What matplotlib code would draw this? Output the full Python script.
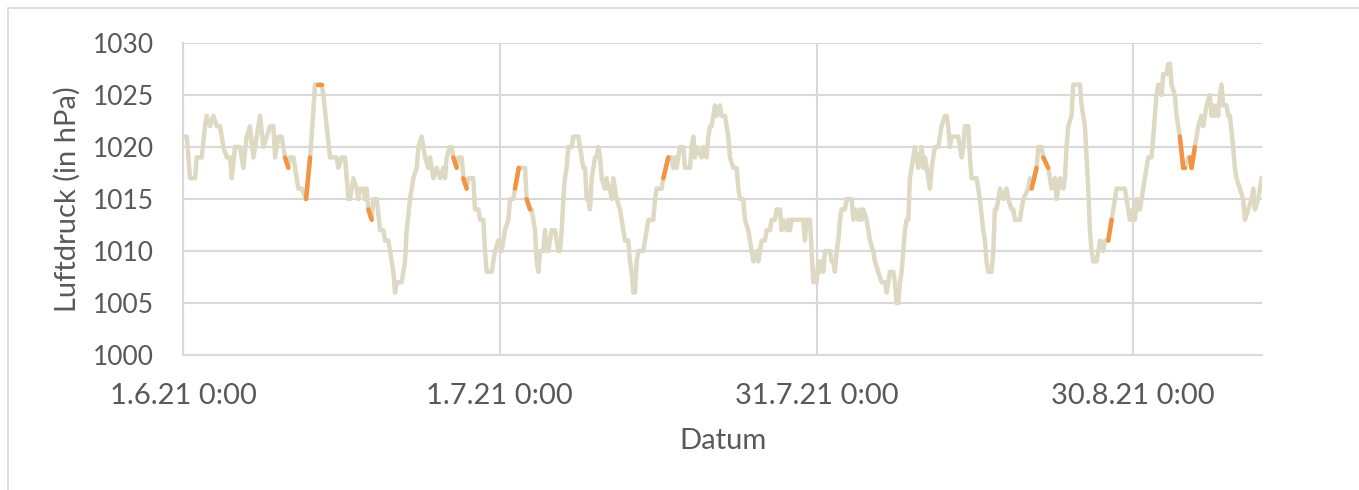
import matplotlib.pyplot as plt
import matplotlib.dates as mdates
import matplotlib.ticker as mticker
from matplotlib.patches import Rectangle
import pandas as pd

# Tage seit 1.6.21 0:00 und Luftdruck in hPa
tage = [0.00, 0.35, 0.66, 1.14, 1.29, 1.77, 2.08, 2.24, 2.56, 2.87, 3.19, 3.50, 3.82, 4.14, 4.45, 4.61,
        4.92, 5.40, 5.71, 6.03, 6.34, 6.66, 6.98, 7.29, 7.61, 7.92, 8.24, 8.55, 8.71, 9.03, 9.34, 9.66,
        9.97, 10.13, 10.45, 10.76, 10.92, 11.24, 11.65, 12.03, 12.18, 12.50, 12.75, 13.13, 13.29, 13.60,
        13.92, 14.55, 14.71, 15.03, 15.34, 15.66, 15.81, 16.13, 16.45, 16.60, 16.76, 17.08, 17.23, 17.39,
        17.55, 17.87, 18.02, 18.34, 18.66, 18.97, 19.13, 19.44, 19.60, 19.76, 19.92, 20.08, 20.23, 20.71,
        20.86, 21.02, 21.18, 21.50, 21.81, 22.13, 22.29, 22.60, 22.92, 23.23, 23.39, 23.55, 23.71, 24.02,
        24.34, 24.65, 24.81, 24.97, 25.28, 25.44, 25.60, 25.92, 26.07, 26.39, 26.55, 26.86, 27.02, 27.49,
        27.65, 27.97, 28.13, 28.44, 28.60, 28.76, 29.23, 29.39, 29.55, 29.86, 30.18, 30.33, 30.49, 30.81,
        30.97, 31.28, 31.44, 31.80, 32.39, 32.54, 32.86, 33.02, 33.18, 33.33, 33.49, 33.65, 33.81, 34.12,
        34.28, 34.44, 34.60, 34.75, 34.91, 35.23, 35.39, 35.54, 35.70, 35.86, 36.02, 36.17, 36.33, 36.49,
        36.81, 36.96, 37.44, 37.59, 37.75, 37.91, 38.07, 38.23, 38.38, 38.54, 38.70, 39.02, 39.17, 39.33,
        39.49, 39.65, 39.96, 40.12, 40.28, 40.44, 40.59, 40.75, 40.91, 41.07, 41.38, 41.54, 41.86, 42.17,
        42.33, 42.49, 42.65, 42.80, 42.96, 43.12, 43.59, 43.75, 43.91, 44.07, 44.54, 44.70, 44.86, 45.33,
        45.49, 45.96, 46.28, 46.43, 46.59, 46.75, 46.91, 47.06, 47.38, 47.54, 48.01, 48.17, 48.33, 48.48,
        48.64, 49.12, 49.27, 49.59, 49.75, 49.91, 50.06, 50.22, 50.38, 50.54, 50.85, 51.01, 51.33, 51.48,
        51.64, 51.80, 52.11, 52.43, 52.59, 52.75, 53.06, 53.22, 53.54, 53.69, 53.85, 54.01, 54.32, 54.48,
        54.64, 54.80, 55.11, 55.27, 55.59, 55.74, 56.06, 56.22, 56.53, 56.69, 56.85, 57.17, 57.32, 57.48,
        57.64, 58.74, 58.90, 59.06, 59.38, 59.53, 59.69, 60.01, 60.16, 60.32, 60.48, 60.64, 60.80, 61.27,
        61.43, 61.58, 61.74, 61.90, 62.06, 62.22, 62.37, 62.69, 62.85, 63.32, 63.48, 63.64, 63.95, 64.11,
        64.27, 64.43, 64.74, 65.06, 65.37, 65.53, 65.85, 66.16, 66.48, 66.64, 66.79, 66.95, 67.27, 67.42,
        67.58, 67.74, 67.90, 68.06, 68.21, 68.37, 68.53, 68.69, 68.84, 69.00, 69.16, 69.32, 69.48, 69.63,
        69.79, 69.95, 70.11, 70.27, 70.42, 70.58, 70.74, 70.90, 71.05, 71.21, 71.53, 71.69, 71.84, 72.16,
        72.32, 72.47, 72.63, 72.79, 73.42, 73.58, 73.74, 73.90, 74.05, 74.37, 74.53, 74.68, 75.16, 75.47,
        75.79, 75.95, 76.10, 76.26, 76.58, 76.74, 76.89, 77.05, 77.21, 77.37, 77.68, 78.00, 78.16, 78.47,
        78.63, 78.79, 79.26, 79.42, 79.58, 80.05, 80.21, 80.37, 80.84, 81.00, 81.31, 81.47, 81.94, 82.10,
        82.26, 82.58, 82.73, 82.89, 83.05, 83.37, 83.52, 83.68, 83.84, 84.15, 84.31, 84.94, 85.10, 85.42,
        85.57, 85.73, 85.89, 86.05, 86.21, 86.52, 86.68, 86.84, 87.15, 87.31, 87.63, 87.94, 88.10, 88.26,
        88.42, 89.20, 89.36, 89.68, 89.99, 90.15, 90.31, 90.47, 90.63, 90.78, 91.10, 91.41, 91.73, 92.05,
        92.20, 92.36, 92.68, 92.83, 93.15, 93.31, 93.47, 93.62, 93.94, 94.10, 94.41, 94.73, 94.89, 95.20,
        95.36, 95.52, 95.83, 95.99, 96.15, 96.46, 96.62, 96.94, 97.25, 97.41, 97.57, 97.73, 97.89, 98.04,
        98.20, 98.36, 98.52, 98.83, 98.99, 99.15, 99.46, 99.62, 99.78, 100.09, 100.41, 100.57, 100.88,
        101.20, 101.36, 101.52, 101.83, 102.15]

druck = [1021, 1021, 1017, 1017, 1019, 1019, 1022, 1023, 1022, 1023, 1022, 1022, 1020, 1019, 1019, 1017,
         1020, 1020, 1018, 1021, 1022, 1019, 1021, 1023, 1020, 1021, 1022, 1022, 1019, 1021, 1021, 1019,
         1018, 1019, 1019, 1017, 1016, 1016, 1015, 1019, 1021, 1026, 1026, 1026, 1025, 1022,
         1019, 1019, 1018, 1019, 1019, 1015, 1015, 1017, 1016, 1015, 1016, 1016, 1015, 1016,
         1014, 1013, 1015, 1015, 1012, 1012, 1011, 1011, 1010, 1009, 1008, 1006, 1007, 1007,
         1008, 1009, 1012, 1015, 1017, 1018, 1020, 1021, 1019, 1018, 1019, 1018, 1017, 1018,
         1017, 1018, 1017, 1019, 1020, 1020, 1019, 1018, 1019, 1019, 1017, 1016, 1017, 1017,
         1014, 1014, 1013, 1013, 1010, 1008, 1008, 1009, 1010, 1011, 1010, 1011, 1012, 1013,
         1015, 1015, 1016, 1018, 1018, 1015, 1014, 1014, 1013, 1012, 1009, 1008, 1010, 1010,
         1012, 1010, 1010, 1011, 1012, 1012, 1011, 1010, 1010, 1012, 1015, 1017, 1018, 1020,
         1020, 1021, 1021, 1020, 1019, 1018, 1018, 1015, 1015, 1014, 1017, 1019, 1019, 1020,
         1019, 1017, 1016, 1017, 1016, 1016, 1015, 1017, 1016, 1015, 1014, 1013, 1011, 1011,
         1009, 1008, 1006, 1006, 1009, 1010, 1010, 1011, 1012, 1013, 1013, 1015, 1016, 1016,
         1017, 1019, 1019, 1018, 1019, 1018, 1019, 1020, 1020, 1018, 1018, 1020, 1021, 1019,
         1020, 1019, 1020, 1019, 1021, 1022, 1022, 1023, 1024, 1023, 1024, 1023, 1023, 1022,
         1021, 1019, 1018, 1018, 1016, 1015, 1015, 1013, 1012, 1011, 1010, 1009, 1010, 1009,
         1010, 1011, 1011, 1012, 1012, 1013, 1013, 1014, 1014, 1012, 1013, 1012, 1013, 1012,
         1013, 1013, 1011, 1013, 1013, 1010, 1007, 1007, 1009, 1008, 1009, 1008, 1010, 1010,
         1009, 1009, 1008, 1010, 1011, 1013, 1014, 1014, 1015, 1015, 1013, 1014, 1013, 1014,
         1013, 1014, 1013, 1011, 1010, 1009, 1008, 1007, 1007, 1006, 1007, 1008, 1008, 1007,
         1005, 1005, 1007, 1008, 1010, 1012, 1013, 1013, 1017, 1018, 1019, 1020, 1019, 1018,
         1019, 1020, 1018, 1019, 1018, 1017, 1016, 1018, 1019, 1020, 1020, 1021, 1022, 1023,
         1023, 1022, 1020, 1021, 1021, 1020, 1019, 1020, 1022, 1022, 1019, 1017, 1017, 1015,
         1012, 1011, 1009, 1008, 1008, 1010, 1014, 1014, 1015, 1016, 1015, 1016, 1015, 1014,
         1014, 1013, 1013, 1014, 1015, 1016, 1017, 1016, 1018, 1020, 1020, 1019, 1018, 1017,
         1016, 1017, 1015, 1016, 1017, 1016, 1017, 1020, 1022, 1023, 1026, 1026, 1024, 1022,
         1019, 1016, 1012, 1010, 1009, 1009, 1010, 1011, 1010, 1011, 1011, 1013, 1014, 1015,
         1016, 1016, 1015, 1013, 1014, 1013, 1015, 1014, 1014, 1015, 1017, 1019, 1019, 1023,
         1025, 1026, 1025, 1027, 1027, 1028, 1028, 1026, 1025, 1023, 1021, 1018, 1018, 1019,
         1019, 1018, 1020, 1021, 1022, 1023, 1022, 1024, 1025, 1023, 1024, 1023, 1024, 1023,
         1025, 1026, 1024, 1024, 1023, 1023, 1020, 1018, 1017, 1016, 1015, 1013, 1014,
         1015, 1016, 1014, 1015, 1017]

# Tage, an denen ein markierter (oranger) Abschnitt endet
markiert_bis = [9.97, 12.03, 13.13, 17.87, 25.92, 26.86, 31.80, 32.86, 45.96, 80.84, 81.94,
                87.94, 94.73, 94.89, 95.52, 95.83]

start = pd.Timestamp('2021-06-01')
zeit = start + pd.to_timedelta(tage, unit='D')

beige = '#DDD9C3'
orange = '#F59342'
grau = '#D9D9D9'
text = '#595959'

plt.rcParams['font.family'] = ['Lato', 'DejaVu Sans']

fig = plt.figure(figsize=(13.59, 4.9), dpi=100)
ax = fig.add_axes([0.1347, 0.2755, 0.794, 0.6367])

ax.plot(zeit, druck, color=beige, linewidth=3.2, solid_joinstyle='round', zorder=3)

for i in range(1, len(tage)):
    if tage[i] in markiert_bis:
        ax.plot(zeit[i-1:i+1], druck[i-1:i+1], color=orange, linewidth=3.2,
                solid_capstyle='round', zorder=4)

ax.set_ylim(1000, 1030)
ax.set_yticks(range(1000, 1031, 5))
ax.set_xlim(start, start + pd.Timedelta(days=102.2))
ax.set_xticks([start + pd.Timedelta(days=d) for d in (0, 30, 60, 90)])
ax.xaxis.set_major_formatter(mticker.FuncFormatter(
    lambda v, p: (lambda d: f'{d.day}.{d.month}.{d:%y} {d.hour}:{d:%M}')(mdates.num2date(v))))

ax.grid(True, color=grau, linewidth=1.5, zorder=0)
for s in ('top', 'right'):
    ax.spines[s].set_visible(False)
for s in ('left', 'bottom'):
    ax.spines[s].set_color(grau)
    ax.spines[s].set_linewidth(1.5)
ax.tick_params(length=0, labelcolor=text)
ax.tick_params(axis='y', labelsize=19, pad=21)
ax.tick_params(axis='x', labelsize=21, pad=20)

ax.set_xlabel('Datum', fontsize=21, color=text, labelpad=14)
ax.set_ylabel('Luftdruck (in hPa)', fontsize=21, color=text, labelpad=9)

fig.patches.append(Rectangle((8/1359, -0.1), 1.2, 1.1 - 8/490, transform=fig.transFigure,
                             fill=False, edgecolor=grau, linewidth=1.2))

plt.savefig('out.png', dpi=100)
